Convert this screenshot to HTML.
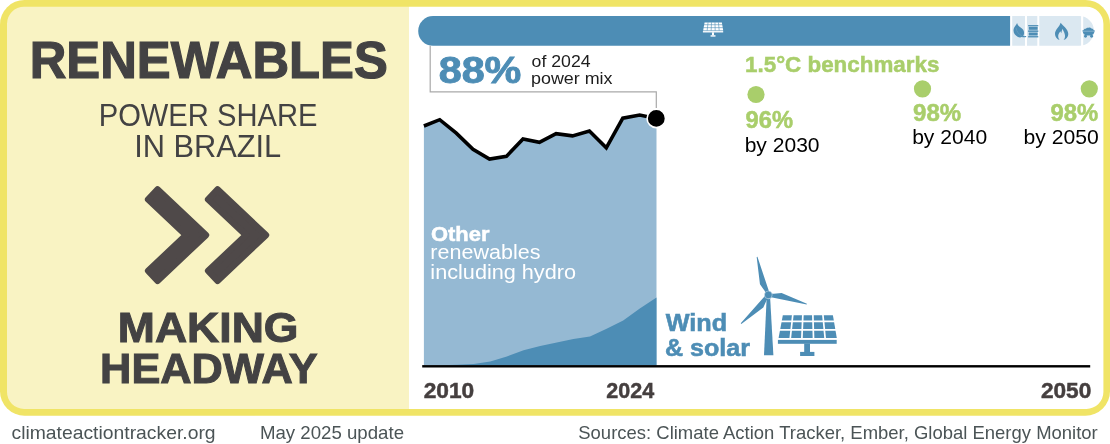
<!DOCTYPE html>
<html lang="en">
<head>
<meta charset="utf-8">
<title>Renewables power share in Brazil</title>
<style>
  html, body { margin: 0; padding: 0; background: #ffffff; }
  body { width: 1110px; height: 444px; overflow: hidden; position: relative; }
  svg { display: block; position: absolute; left: 0; top: 0; }
  text { font-family: "Liberation Sans", sans-serif; }
  .b { font-weight: bold; }
  .dk { fill: #434243; }
  .br { fill: #453f3f; }
  .bl { fill: #4d8db5; }
  .gr { fill: #a9ce6b; }
  .ft { fill: #4b5456; }
  text[stroke-width].dk { stroke: #434243; }
  text[stroke-width].br { stroke: #453f3f; }
  text[stroke-width].bl { stroke: #4d8db5; }
  text[stroke-width].gr { stroke: #a9ce6b; }
  text[stroke-width].wh { stroke: #ffffff; }
</style>
</head>
<body>
<svg width="1110" height="444" viewBox="0 0 1110 444">
  <!-- frame -->
  <rect x="0" y="0" width="1110" height="415.7" rx="24.5" ry="24.5" fill="#f0e466"/>
  <path d="M24.0 6.7 H409 V408.9 H24.0 A17 17 0 0 1 7.0 391.9 V23.7 A17 17 0 0 1 24.0 6.7 Z" fill="#f9f3c3"/>
  <path d="M409 6.7 H1086.4 A17 17 0 0 1 1103.4 23.7 V391.9 A17 17 0 0 1 1086.4 408.9 H409 Z" fill="#ffffff"/>

  <!-- left panel text -->

  <!-- chevrons -->
  <g fill="#4f4949" stroke="#4f4949" stroke-width="6.4" stroke-linejoin="round">
    <path d="M157.52 189.40 L206.00 235.10 L157.52 280.80 L148.10 270.81 L185.98 235.10 L148.10 199.39 Z"/>
    <path d="M217.52 189.40 L266.00 235.10 L217.52 280.80 L208.10 270.81 L245.98 235.10 L208.10 199.39 Z"/>
  </g>


  <!-- footer -->

  <!-- top bar -->
  <clipPath id="barclip"><rect x="418.2" y="16.1" width="675.8" height="29.7" rx="14.85" ry="14.85"/></clipPath>
  <g clip-path="url(#barclip)">
    <rect x="418" y="16" width="592.1" height="30" fill="#4d8db5"/>
    <g fill="#dbe8f1">
      <rect x="1012.2" y="16" width="12.8" height="30"/>
      <rect x="1027" y="16" width="10.3" height="30"/>
      <rect x="1039.3" y="16" width="41.8" height="30"/>
      <rect x="1083.2" y="16" width="12" height="30"/>
    </g>
  </g>
  <!-- bar icons -->
  <g>
    <path d="M704.59 22.60 L721.88 22.60 L723.22 30.43 L703.14 30.43 Z" fill="#ffffff"/>
    <path d="M702.24 24.72 H723.98 M702.24 27.65 H723.98 M708.05 22.32 L707.16 30.64 M711.50 22.32 L711.17 30.64 M714.96 22.32 L715.19 30.64 M718.42 22.32 L719.20 30.64" stroke="#4d8db5" stroke-width="0.59" fill="none"/>
    <rect x="702.90" y="31.09" width="20.29" height="1.35" fill="#ffffff"/>
    <rect x="711.97" y="32.33" width="2.00" height="2.97" fill="#ffffff"/>
    <rect x="710.56" y="35.23" width="4.93" height="1.41" fill="#ffffff"/>
  </g>
  <!-- leaf -->
  <path d="M1017.1 22.9 C1017.6 24.6 1018.4 25.8 1019.6 26.8 C1021 27.9 1022.4 28.6 1023.2 29.8 C1024.2 31.3 1024.4 33.6 1023.5 35.6 L1023.3 36.1 C1024.3 36.3 1025.2 36.3 1026.1 36.1 L1026.2 37.1 C1024.6 37.5 1023 37.4 1021.8 37.1 C1020.4 37.6 1018.9 37.5 1017.6 36.8 C1015.3 35.6 1013.5 33.3 1013.5 30.6 C1013.5 28.6 1014.3 27.3 1015.2 26 C1016 24.9 1016.7 24 1017.1 22.9 Z" fill="#4d8db5"/>
  <path d="M1016 28 C1016.6 31.5 1018.8 34.6 1022.6 36.4" fill="none" stroke="#71a3c3" stroke-width="0.6"/>
  <!-- barrel -->
  <g fill="#4d8db5">
    <rect x="1028.1" y="25.1" width="10.2" height="1.2"/>
    <rect x="1028.7" y="26.8" width="9" height="3"/>
    <rect x="1028.1" y="30.4" width="10.2" height="1.5"/>
    <rect x="1028.7" y="32.5" width="9" height="3"/>
    <rect x="1028.1" y="36.1" width="10.2" height="1.3"/>
  </g>
  <!-- flame -->
  <path d="M1060.6 22.8 C1062.5 25.5 1068.3 29 1068.3 34 C1068.3 37 1066.3 39.3 1063.6 40 C1065 38.3 1065.4 36.2 1064.7 34 C1064.2 32 1063 30.5 1062.6 28.8 C1061.8 30.2 1061.5 31.6 1061.3 33.2 C1061 32.4 1060.7 31.8 1060.3 31.2 C1059.6 32.6 1058.3 33.8 1058.2 35.8 C1058.1 37.5 1058.6 38.9 1059.6 40 C1057 39.3 1055 37 1055 34 C1055 29.5 1059.5 27 1060.6 22.8 Z" fill="#4d8db5"/>
  <!-- coal cart -->
  <g fill="#4d8db5">
    <path d="M1083.6 30.6 C1083.6 29.2 1084.8 28.6 1085.8 28.8 C1086.3 27.8 1087.6 27.4 1088.6 27.8 C1089.6 27.3 1090.9 27.7 1091.4 28.6 C1092.6 28.5 1093.6 29.3 1093.6 30.6 Z"/>
    <path d="M1082.5 30.2 H1094.7 C1094.6 33 1092.6 35.4 1090.6 35.4 H1086.6 C1084.6 35.4 1082.6 33 1082.5 30.2 Z"/>
    <circle cx="1085.5" cy="36.2" r="1.45"/>
    <circle cx="1091.6" cy="36.2" r="1.45"/>
  </g>
  <path d="M1083 31.5 H1094.2" stroke="#8fb7d2" stroke-width="0.6" fill="none"/>

  <!-- chart areas -->
  <path d="M423.9 365.5 V126 L439.7 119.7 L456.3 133.1 L473 149.2 L489.5 159.1 L506.4 156.4 L523 138.9 L539.4 142.3 L556.1 133.6 L572.5 135.9 L589.4 131 L606.3 147.8 L622.8 118.2 L639.7 115 L656.5 118.4 V365.5 Z" fill="#95b9d3"/>
  <path d="M423.9 365.5 L440.5 365.3 L457.1 364.8 L473.7 363.9 L490.3 361.5 L506.9 356.4 L523.6 350.3 L540.2 346.1 L556.8 342.5 L573.4 339 L590 336.5 L606.6 328.7 L623.2 320.5 L639.8 308.6 L656.5 297.6 V365.5 Z" fill="#4d8db5"/>
  <path d="M423.9 126 L439.7 119.7 L456.3 133.1 L473 149.2 L489.5 159.1 L506.4 156.4 L523 138.9 L539.4 142.3 L556.1 133.6 L572.5 135.9 L589.4 131 L606.3 147.8 L622.8 118.2 L639.7 115 L656.3 118.4" fill="none" stroke="#000000" stroke-width="3.6" stroke-linejoin="miter"/>
  <!-- callout -->
  <path d="M430.2 45.7 V91.8 H656.3 V108" fill="none" stroke="#a9a9a9" stroke-width="1.2"/>
  <circle cx="656.3" cy="118.4" r="9.2" fill="#000000" stroke="#ffffff" stroke-width="1.6"/>
  <!-- axis -->
  <rect x="422.2" y="365.1" width="668" height="2.4" fill="#000000"/>


  <!-- 88% -->

  <!-- other renewables -->

  <!-- wind & solar -->

  <!-- benchmarks -->
  <circle cx="756" cy="94.5" r="8.6" fill="#a9ce6b"/>
  <circle cx="922.5" cy="88.8" r="8.6" fill="#a9ce6b"/>
  <circle cx="1089.3" cy="88.8" r="8.6" fill="#a9ce6b"/>
  <!-- wind turbine -->
  <g fill="#4d8db5">
    <path d="M766.6 299 L770.2 299 L773.4 355.3 L764 355.3 Z"/>
    <path d="M769.36 292.50 L757.44 256.82 L756.67 257.04 L759.96 284.33 L764.58 290.79 L765.81 293.55 Z M769.85 297.02 L806.71 304.53 L806.90 303.76 L781.62 292.96 L773.72 293.73 L770.71 293.42 Z M765.69 295.18 L740.75 323.35 L741.33 323.90 L763.32 307.41 L766.60 300.18 L768.37 297.73 Z"/>
    <circle cx="768.3" cy="294.9" r="3.9" stroke="#ffffff" stroke-width="0.4"/>
  </g>
  <!-- solar panel -->
  <g>
    <path d="M782.80 315.30 L832.90 315.30 L836.80 338.00 L778.60 338.00 Z" fill="#4d8db5"/>
    <path d="M776.00 321.45 H839.00 M776.00 329.95 H839.00 M792.82 314.50 L790.24 338.60 M802.84 314.50 L801.88 338.60 M812.86 314.50 L813.52 338.60 M822.88 314.50 L825.16 338.60" stroke="#ffffff" stroke-width="1.70" fill="none"/>
    <rect x="777.90" y="339.90" width="58.80" height="3.90" fill="#4d8db5"/>
    <rect x="804.20" y="343.50" width="5.80" height="8.60" fill="#4d8db5"/>
    <rect x="800.10" y="351.90" width="14.30" height="4.10" fill="#4d8db5"/>
  </g>
  <text stroke-width="1.2" class="b dk" x="29.63" y="77.7" font-size="52.2" textLength="358.22" lengthAdjust="spacingAndGlyphs">RENEWABLES</text>
  <text class="dk" x="98.72" y="125.9" font-size="30.8" textLength="218.68" lengthAdjust="spacingAndGlyphs">POWER SHARE</text>
  <text class="dk" x="134.13" y="157" font-size="30.8" textLength="147.13" lengthAdjust="spacingAndGlyphs">IN BRAZIL</text>
  <text stroke-width="1.0" class="b dk" x="117.87" y="341.6" font-size="41.8" textLength="180.60" lengthAdjust="spacingAndGlyphs">MAKING</text>
  <text stroke-width="1.0" class="b dk" x="100.08" y="382.8" font-size="41.8" textLength="217.57" lengthAdjust="spacingAndGlyphs">HEADWAY</text>
  <text class="ft" x="11.47" y="438.5" font-size="19" textLength="204.15" lengthAdjust="spacingAndGlyphs">climateactiontracker.org</text>
  <text class="ft" x="259.95" y="438.5" font-size="19" textLength="144.10" lengthAdjust="spacingAndGlyphs">May 2025 update</text>
  <text class="ft" x="578.29" y="438.5" font-size="19" textLength="519.46" lengthAdjust="spacingAndGlyphs">Sources: Climate Action Tracker, Ember, Global Energy Monitor</text>
  <text stroke-width="0.5" class="b br" x="423.71" y="397.6" font-size="22.6" textLength="50.54" lengthAdjust="spacingAndGlyphs">2010</text>
  <text stroke-width="0.5" class="b br" x="606.29" y="397.6" font-size="22.6" textLength="47.84" lengthAdjust="spacingAndGlyphs">2024</text>
  <text stroke-width="0.5" class="b br" x="1040.92" y="397.6" font-size="22.6" textLength="50.37" lengthAdjust="spacingAndGlyphs">2050</text>
  <text stroke-width="0.9" class="b bl" x="438.70" y="83.4" font-size="37.5" textLength="82.66" lengthAdjust="spacingAndGlyphs">88%</text>
  <text fill="#1d1d1d" x="531.55" y="66.5" font-size="16" textLength="59.04" lengthAdjust="spacingAndGlyphs">of 2024</text>
  <text fill="#1d1d1d" x="530.99" y="84" font-size="16" textLength="81.54" lengthAdjust="spacingAndGlyphs">power mix</text>
  <text stroke-width="0.5" class="b wh" fill="#ffffff" x="431.00" y="240.8" font-size="20.5" textLength="58.50" lengthAdjust="spacingAndGlyphs">Other</text>
  <text fill="#ffffff" x="430.36" y="259.4" font-size="20" textLength="110.10" lengthAdjust="spacingAndGlyphs">renewables</text>
  <text fill="#ffffff" x="430.35" y="278.9" font-size="20" textLength="145.65" lengthAdjust="spacingAndGlyphs">including hydro</text>
  <text stroke-width="0.55" class="b bl" x="665.74" y="330.5" font-size="23" textLength="61.43" lengthAdjust="spacingAndGlyphs">Wind</text>
  <text stroke-width="0.55" class="b bl" x="664.98" y="355.5" font-size="23" textLength="85.04" lengthAdjust="spacingAndGlyphs">&amp; solar</text>
  <text stroke-width="0.5" class="b gr" x="745.04" y="71.6" font-size="22.8" textLength="194.30" lengthAdjust="spacingAndGlyphs">1.5°C benchmarks</text>
  <text stroke-width="0.5" class="b gr" x="745.58" y="128" font-size="23.6" textLength="47.47" lengthAdjust="spacingAndGlyphs">96%</text>
  <text fill="#000000" x="744.67" y="151.6" font-size="21" textLength="74.91" lengthAdjust="spacingAndGlyphs">by 2030</text>
  <text stroke-width="0.5" class="b gr" x="913.05" y="121" font-size="23.3" textLength="48.14" lengthAdjust="spacingAndGlyphs">98%</text>
  <text fill="#000000" x="912.17" y="144.4" font-size="21" textLength="74.95" lengthAdjust="spacingAndGlyphs">by 2040</text>
  <text stroke-width="0.5" class="b gr" x="1050.57" y="121" font-size="23.3" textLength="47.76" lengthAdjust="spacingAndGlyphs">98%</text>
  <text fill="#000000" x="1023.47" y="144.4" font-size="21" textLength="75.28" lengthAdjust="spacingAndGlyphs">by 2050</text>
</svg>
</body>
</html>
